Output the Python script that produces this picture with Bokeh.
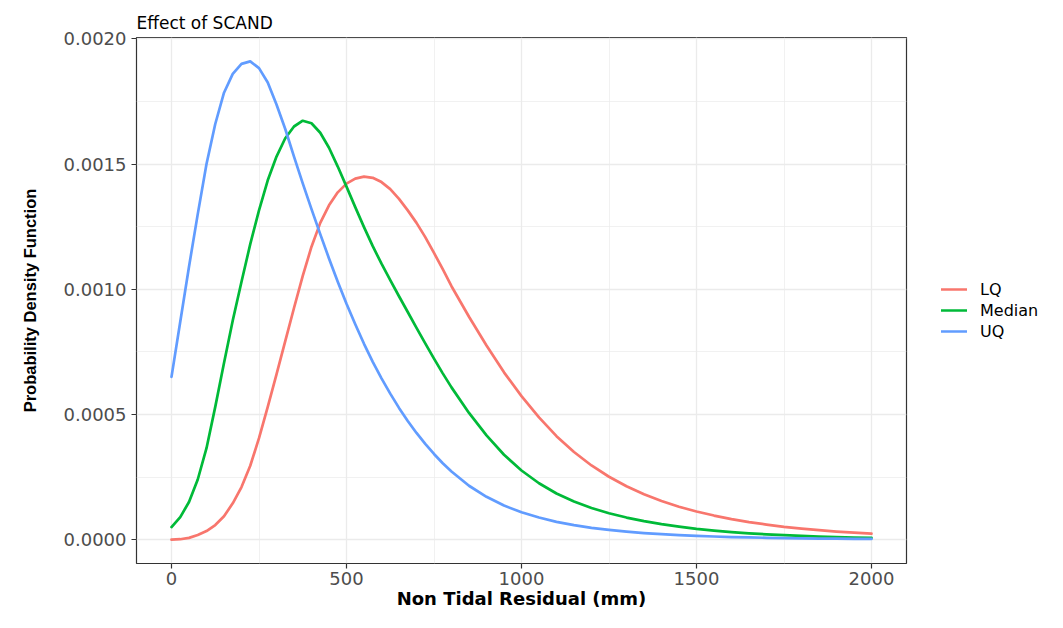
from bokeh.plotting import figure
from bokeh.models import (Range1d, FixedTicker, PrintfTickFormatter, Legend,
                          LegendItem, ColumnDataSource)
from bokeh.embed import file_html
from bokeh.resources import INLINE

# ---- data (density values in units of 1e-5) ----
residual_mm = [0, 25, 50, 75, 100, 125, 150, 175, 200, 225, 250, 275, 300, 325,
               350, 375, 400, 425, 450, 475, 500, 525, 550, 575, 600, 625, 650,
               675, 700, 725, 750, 775, 800, 850, 900, 950, 1000, 1050, 1100,
               1150, 1200, 1250, 1300, 1350, 1400, 1450, 1500, 1550, 1600, 1650,
               1700, 1750, 1800, 1850, 1900, 1950, 2000]

pdf_lq_e5 = [0.0, 0.15, 0.7, 1.8, 3.4, 5.8, 9.3, 14.5, 21.0, 29.5, 40.5, 53.0,
             66.0, 79.3, 92.5, 105.3, 117.0, 126.5, 133.5, 138.7, 142.2, 144.2,
             145.0, 144.5, 142.8, 140.0, 136.1, 131.5, 126.5, 120.8, 114.5,
             108.0, 101.2, 89.0, 77.5, 66.8, 57.3, 48.8, 41.3, 35.0, 29.6, 25.1,
             21.3, 18.1, 15.4, 13.1, 11.2, 9.6, 8.2, 7.0, 6.0, 5.1, 4.4, 3.75,
             3.2, 2.75, 2.35]

pdf_median_e5 = [5.0, 9.0, 15.0, 24.0, 36.5, 53.0, 70.5, 87.5, 103.0, 118.0,
                 131.5, 143.5, 153.0, 160.3, 165.0, 167.3, 166.3, 162.5, 156.5,
                 149.0, 141.0, 132.8, 124.8, 117.2, 110.2, 103.6, 97.2, 90.9,
                 84.6, 78.4, 72.3, 66.4, 60.8, 50.6, 41.6, 33.9, 27.6, 22.5,
                 18.4, 15.2, 12.6, 10.5, 8.8, 7.4, 6.2, 5.2, 4.3, 3.6, 3.0, 2.5,
                 2.1, 1.75, 1.45, 1.2, 1.0, 0.82, 0.68]

pdf_uq_e5 = [65.0, 87.0, 109.0, 130.0, 150.0, 166.0, 178.5, 186.0, 190.0, 191.0,
             188.3, 182.6, 173.8, 164.0, 153.0, 142.3, 132.0, 122.0, 112.3,
             103.0, 94.2, 86.0, 78.2, 71.0, 64.4, 58.3, 52.6, 47.4, 42.6, 38.2,
             34.2, 30.5, 27.2, 21.5, 17.1, 13.6, 10.9, 8.8, 7.1, 5.8, 4.7, 3.85,
             3.15, 2.6, 2.15, 1.78, 1.48, 1.23, 1.02, 0.85, 0.71, 0.6, 0.5,
             0.42, 0.36, 0.3, 0.26]

series_names = ["LQ", "Median", "UQ"]
series_colors = ["#F8766D", "#00BA38", "#619CFF"]

x_ticks = [0, 500, 1000, 1500, 2000]
x_minor = [250, 750, 1250, 1750]
y_ticks = [0.0, 0.0005, 0.0010, 0.0015, 0.0020]
y_minor = [0.00025, 0.00075, 0.00125, 0.00175]

title_text = "Effect of SCAND"
x_title = "Non Tidal Residual (mm)"
y_title = "Probability Density Function"

# ---- figure ----
p = figure(frame_width=770, frame_height=526, output_backend="svg",
           toolbar_location=None,
           x_range=Range1d(-100, 2100), y_range=Range1d(-0.0000955, 0.0020055),
           min_border_left=136, min_border_right=150, min_border_top=37,
           min_border_bottom=65, background_fill_color="white",
           border_fill_color="white")

p.title.text = title_text
p.title.text_font = "DejaVu Sans"
p.title.text_font_size = "17px"
p.title.text_font_style = "normal"
p.title.text_color = "black"
p.title.align = "left"
p.title.standoff = 10

p.outline_line_color = "#333333"
p.outline_line_width = 1.2

p.xaxis.ticker = FixedTicker(ticks=x_ticks, minor_ticks=x_minor)
p.yaxis.ticker = FixedTicker(ticks=y_ticks, minor_ticks=y_minor)
p.yaxis.formatter = PrintfTickFormatter(format="%.4f")

for ax in (p.xaxis[0], p.yaxis[0]):
    ax.axis_line_color = None
    ax.major_tick_line_color = "#333333"
    ax.major_tick_line_width = 1.2
    ax.major_tick_out = 5
    ax.major_tick_in = 0
    ax.minor_tick_line_color = None
    ax.major_label_text_font = "DejaVu Sans"
    ax.major_label_text_font_size = "18px"
    ax.major_label_text_color = "#4D4D4D"
    ax.axis_label_text_color = "black"
    ax.axis_label_text_font_style = "bold"

p.xaxis.major_label_standoff = 3
p.yaxis.major_label_standoff = 5
p.xaxis.axis_label = x_title
p.xaxis.axis_label_text_font = "DejaVu Sans"
p.xaxis.axis_label_text_font_size = "18px"
p.xaxis.axis_label_standoff = 0
p.yaxis.axis_label = y_title
p.yaxis.axis_label_text_font = "Liberation Sans"
p.yaxis.axis_label_text_font_size = "16.5px"
p.yaxis.axis_label_standoff = 22

p.grid.grid_line_color = "#EBEBEB"
p.grid.grid_line_width = 1.3
p.grid.minor_grid_line_color = "#EBEBEB"
p.grid.minor_grid_line_width = 0.7

src = ColumnDataSource(dict(
    x=residual_mm,
    LQ=[v * 1e-5 for v in pdf_lq_e5],
    Median=[v * 1e-5 for v in pdf_median_e5],
    UQ=[v * 1e-5 for v in pdf_uq_e5],
))
items = []
for name, col in zip(series_names, series_colors):
    r = p.line("x", name, source=src, line_color=col, line_width=2.7,
               line_join="round", line_cap="round")
    items.append(LegendItem(label=name, renderers=[r]))

legend = Legend(items=items, location=(35, 222), orientation="vertical",
                label_text_font="DejaVu Sans", label_text_font_size="16px",
                label_text_color="black", glyph_width=26, glyph_height=20,
                label_height=20, label_standoff=13, spacing=1, padding=0,
                margin=0, border_line_color=None, background_fill_alpha=0)
p.add_layout(legend, "right")

open("out.html", "w").write(file_html(p, INLINE))
